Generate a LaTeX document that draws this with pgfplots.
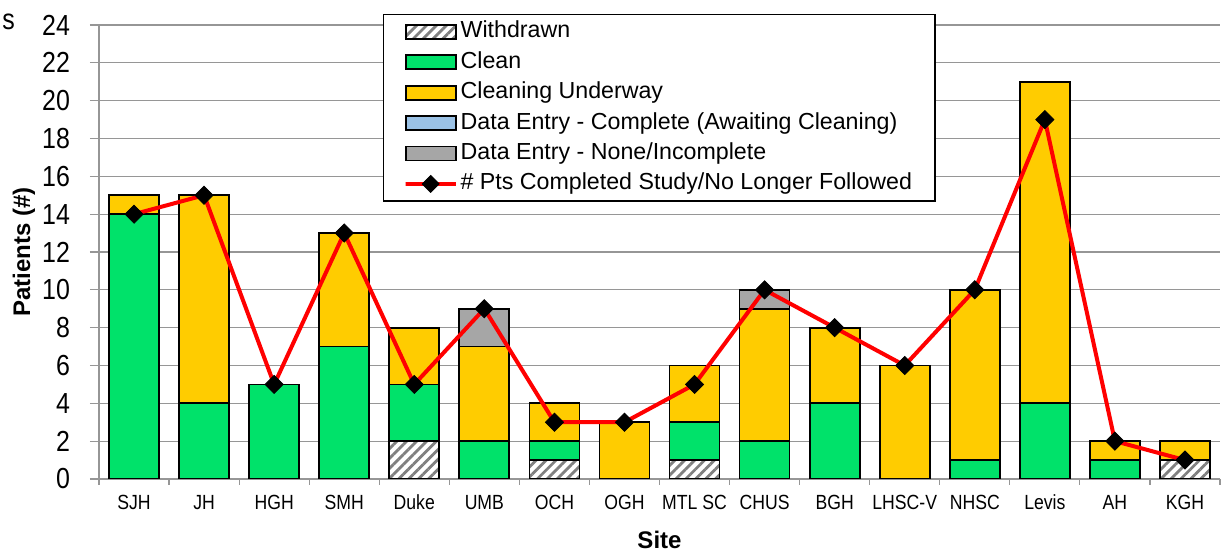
\documentclass[border=0pt]{standalone}
\usepackage{fontspec}
\setmainfont{Liberation Sans}
\newfontfamily\narrow{Liberation Sans}[FakeStretch=0.86]
\usepackage{pgfplots}
\usepackage{pgfplotstable}
\pgfplotsset{compat=1.18}
\usetikzlibrary{patterns.meta}
\definecolor{cgreen}{RGB}{0,226,106}
\definecolor{cyellow}{RGB}{255,204,0}
\definecolor{cblue}{RGB}{155,194,230}
\definecolor{cgray}{RGB}{166,166,166}
\definecolor{cgrid}{RGB}{150,150,150}
\pgfplotsset{
  mybarlegend/.style={legend image code/.code={\draw[##1, line width=0.9pt] (0pt,-3.5pt) rectangle (25pt,3.5pt);}},
  mylinelegend/.style={legend image code/.code={\draw[##1] (0pt,0pt) -- (25pt,0pt); \path[##1] plot coordinates {(12.5pt,0pt)};}},
}
\pgfplotstableread{
x wd cl cu dec den pts
0 0 14 1 0 0 14
1 0 4 11 0 0 15
2 0 5 0 0 0 5
3 0 7 6 0 0 13
4 2 3 3 0 0 5
5 0 2 5 0 2 9
6 1 1 2 0 0 3
7 0 0 3 0 0 3
8 1 2 3 0 0 5
9 0 2 7 0 1 10
10 0 4 4 0 0 8
11 0 0 6 0 0 6
12 0 1 9 0 0 10
13 0 4 17 0 0 19
14 0 1 1 0 0 2
15 1 0 1 0 0 1
}\data
\begin{document}
\begin{tikzpicture}
\useasboundingbox (0,0) rectangle (614pt,275.5pt);
\node[anchor=base west, inner sep=0pt, font=\narrow\fontsize{14.5}{16}\selectfont] at (1pt,260.5pt) {s};
\begin{axis}[
  at={(49.5pt,36pt)}, anchor=south west,
  scale only axis, width=560.5pt, height=227pt,
  ybar stacked, bar width=25pt,
  xmin=-0.5, xmax=15.5, ymin=0, ymax=24,
  xtick={0,...,15},
  xticklabels={SJH,JH,HGH,SMH,Duke,UMB,OCH,OGH,MTL SC,CHUS,BGH,LHSC-V,NHSC,Levis,AH,KGH},
  minor xtick={-0.5,0.5,...,15.5},
  major x tick style={draw=none},
  minor tick length=3pt,
  ytick={0,2,...,24},
  major tick length=4.5pt,
  tick align=outside,
  tick style={cgrid, line width=0.6pt},
  axis x line*=bottom, axis y line*=left,
  axis line style={cgrid, line width=0.8pt},
  ymajorgrids, grid style={cgrid, line width=0.6pt},
  /pgf/number format/assume math mode=true,
  yticklabel style={font=\narrow\fontsize{14.5}{16}\selectfont, xshift=-6.5pt},
  xticklabel style={font=\narrow\fontsize{10.25}{12}\selectfont},
  xlabel={Site}, ylabel={Patients (\#)},
  xlabel style={font=\bfseries\fontsize{12}{14}\selectfont, at={(axis description cs:0.5,-0.134)}, anchor=center},
  ylabel style={font=\bfseries\fontsize{12}{14}\selectfont, at={(axis description cs:-0.067,0.5)}, anchor=center},
  legend cell align=left,
  legend style={at={(0.2534,1.024)}, anchor=north west, draw=black, line width=0.6pt,
    font=\fontsize{11.6}{13}\selectfont, inner xsep=10pt, inner ysep=1pt, column sep=0pt,
    nodes={inner xsep=1.5pt, inner ysep=2.1pt, text height=8.5pt, text depth=2.5pt}},
  mybarlegend,
]
\addplot[draw=black, line width=0.9pt, pattern={Lines[angle=45,distance=3.5pt,line width=1.4pt]}, pattern color=gray] table[x=x,y=wd]{\data};
\addlegendentry{Withdrawn}
\addplot[draw=black, line width=0.9pt, fill=cgreen] table[x=x,y=cl]{\data};
\addlegendentry{Clean}
\addplot[draw=black, line width=0.9pt, fill=cyellow] table[x=x,y=cu]{\data};
\addlegendentry{Cleaning Underway}
\addplot[draw=black, line width=0.9pt, fill=cblue] table[x=x,y=dec]{\data};
\addlegendentry{Data Entry - Complete (Awaiting Cleaning)}
\addplot[draw=black, line width=0.9pt, fill=cgray] table[x=x,y=den]{\data};
\addlegendentry{Data Entry - None/Incomplete}
\addlegendimage{red, line width=2pt, mark=square*, mark size=3pt, mark options={draw=black, fill=black, rotate=45, line width=0.4pt}, mylinelegend}
\addlegendentry{\# Pts Completed Study/No Longer Followed}
\end{axis}
\begin{axis}[
  at={(49.5pt,36pt)}, anchor=south west,
  scale only axis, width=560.5pt, height=227pt,
  xmin=-0.5, xmax=15.5, ymin=0, ymax=24,
  hide axis, clip=false,
]
\addplot[red, line width=2pt, mark=square*, mark size=3.2pt, mark options={draw=black, fill=black, rotate=45, line width=0.4pt}] table[x=x,y=pts]{\data};
\end{axis}
\end{tikzpicture}
\end{document}
